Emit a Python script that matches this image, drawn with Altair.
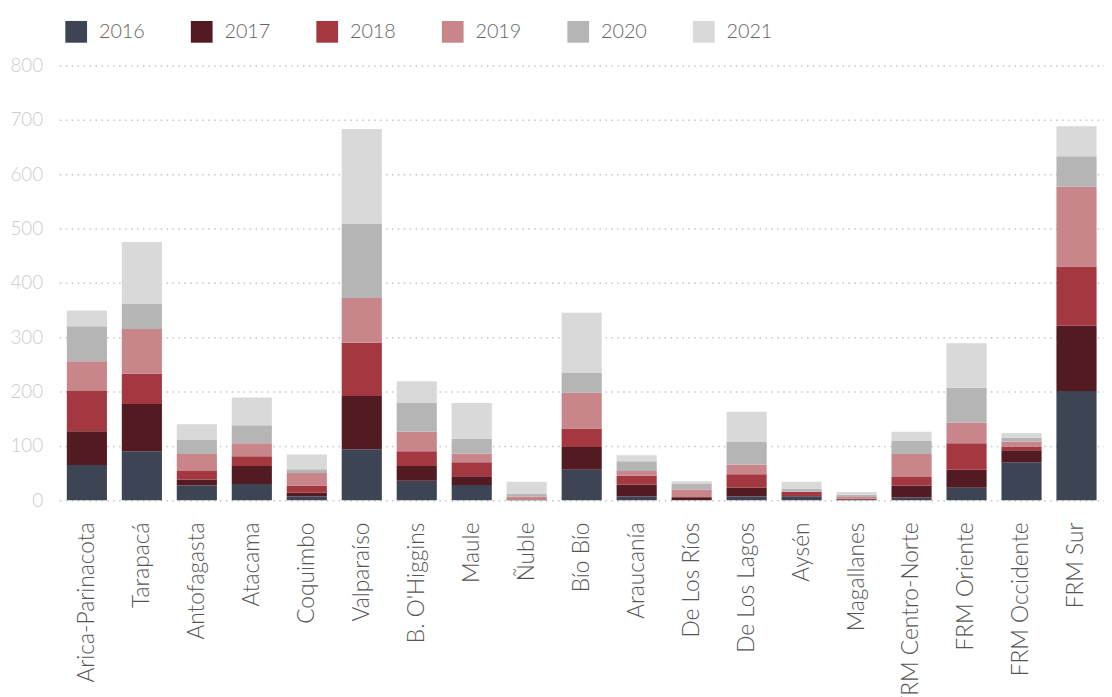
import altair as alt
import pandas as pd

regions = ["Arica-Parinacota", "Tarapacá", "Antofagasta", "Atacama", "Coquimbo",
           "Valparaíso", "B. O'Higgins", "Maule", "Ñuble", "Bío Bío", "Araucanía",
           "De Los Ríos", "De Los Lagos", "Aysén", "Magallanes", "FRM Centro-Norte",
           "FRM Oriente", "FRM Occidente", "FRM Sur"]
years = ["2016", "2017", "2018", "2019", "2020", "2021"]
colors = ["#3d4453", "#521b21", "#a33841", "#c8868b", "#b5b5b5", "#d9d9d9"]

v2016 = [65, 90, 27, 30, 7, 94, 36, 28, 0.5, 56, 7, 0.5, 7, 7, 0.5, 5, 23, 70, 201]
v2017 = [62, 87, 11, 33, 7, 98, 27, 16, 0.5, 42, 22, 5, 16, 1, 1.5, 22, 33, 22, 120]
v2018 = [74, 56, 16, 18, 13, 98, 27, 26, 1, 34, 16, 0.5, 25, 7, 1, 16, 49, 7, 109]
v2019 = [55, 82, 31, 24, 23, 82, 36, 16, 5, 66, 9, 14, 18, 1, 3, 42, 38, 9, 147]
v2020 = [64, 47, 26, 33, 7, 137, 53, 27, 5, 36, 18, 11, 42, 5, 4, 25, 64, 7, 56]
v2021 = [29, 113, 29, 51, 27, 174, 40, 66, 22, 111, 11, 4, 55, 13, 5, 16, 82, 9, 55]

series = [v2016, v2017, v2018, v2019, v2020, v2021]
rows = []
for yi, (yr, vals) in enumerate(zip(years, series)):
    for r, v in zip(regions, vals):
        rows.append({"region": r, "year": yr, "idx": yi, "value": v})
df = pd.DataFrame(rows)

FONT = "Lato"

chart = alt.Chart(df).mark_bar().encode(
    x=alt.X("region:N", sort=regions, title=None,
            scale=alt.Scale(paddingInner=0.27, paddingOuter=0.135),
            axis=alt.Axis(labelAngle=-90, labelFontSize=23, labelColor="#555555",
                          labelFont=FONT, labelFontWeight=300, ticks=False,
                          domain=False, labelPadding=22, labelLimit=400)),
    y=alt.Y("value:Q", title=None, stack="zero",
            scale=alt.Scale(domain=[0, 800], nice=False),
            axis=alt.Axis(values=list(range(0, 801, 100)), labelFontSize=19,
                          labelColor="#cccccc", labelFont=FONT, labelFontWeight=300,
                          ticks=False, domain=False, labelPadding=17,
                          grid=True, gridDash=[1.5, 4.5], gridColor="#c4c4c4",
                          gridWidth=1.5)),
    color=alt.Color("year:N", sort=years,
                    scale=alt.Scale(domain=years, range=colors),
                    legend=alt.Legend(title=None, orient="none", direction="horizontal",
                                      legendX=6, legendY=-45, symbolType="square",
                                      symbolSize=484, symbolStrokeWidth=0,
                                      labelFontSize=20, labelColor="#666666",
                                      labelFont=FONT, labelFontWeight=300,
                                      labelOffset=12, columnPadding=46,
                                      symbolOpacity=1)),
    order=alt.Order("idx:Q", sort="ascending"),
).properties(
    width=1057, height=440,
    autosize=alt.AutoSizeParams(type="none"),
    padding={"left": 52, "top": 54, "right": 0, "bottom": 200},
).configure_view(stroke=None).configure_axis(gridOpacity=1)

chart.save("out.html", embed_options={"renderer": "svg", "actions": False})
